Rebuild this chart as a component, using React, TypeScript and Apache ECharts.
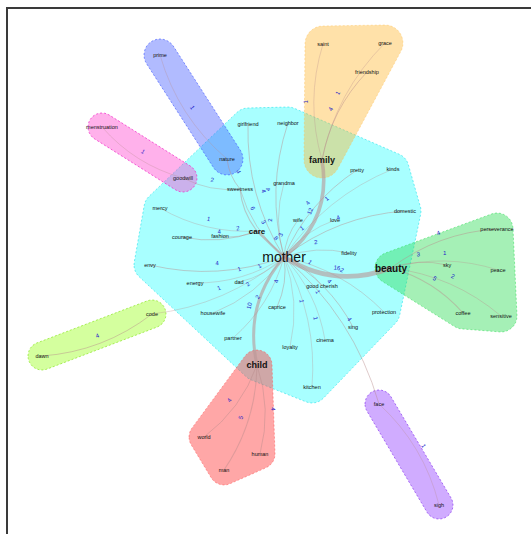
import React, { useEffect, useRef } from "react";
import * as echarts from "echarts";

const nodeNames = [
  "mother", "care", "family", "beauty", "child",
  "girlfriend", "neighbor", "sweetness", "grandma", "pretty", "kinds", "wife", "love",
  "domestic", "fidelity", "mercy", "courage", "fashion", "envy", "energy", "dad",
  "housewife", "caprice", "good cherish", "protection", "partner", "loyalty", "cinema",
  "sing", "kitchen",
  "nature", "prime", "goodwill", "menstruation",
  "saint", "grace", "friendship",
  "sky", "peace", "perseverance", "coffee", "sensitive",
  "code", "dawn",
  "world", "man", "human",
  "face", "sigh",
];
const nodeX = [
  284, 257, 322, 391, 257,
  248, 288, 240, 284, 357, 393, 298, 335,
  405, 349, 160, 182, 220, 150, 195, 239,
  213, 277, 322, 384, 233, 290, 325,
  353, 312,
  227, 160, 183, 102,
  323, 385, 367,
  447, 498, 497, 463, 501,
  152, 42,
  204, 224, 260,
  379, 439,
];
const nodeY = [
  257, 231, 160, 268, 365,
  124, 123, 189, 183, 170, 169, 220, 220,
  211, 253, 208, 237, 236, 265, 283, 282,
  313, 307, 286, 312, 338, 347, 340,
  327, 387,
  159, 55, 178, 127,
  44, 43, 72,
  265, 270, 229, 313, 316,
  314, 356,
  437, 470, 454,
  404, 505,
];

const edgeSource = [
  "mother", "mother", "mother", "mother", "care", "sweetness", "sweetness", "goodwill",
  "nature", "mother", "family", "family", "family", "mother", "mother", "mother",
  "mother", "mother", "mother", "mother", "mother", "mother", "care", "care", "care",
  "mother", "mother", "mother", "mother", "mother", "mother", "mother", "mother",
  "mother", "mother", "mother", "mother", "mother", "code", "mother", "face",
  "child", "child", "child", "beauty", "beauty", "beauty", "beauty", "beauty",
];
const edgeTarget = [
  "family", "beauty", "child", "care", "sweetness", "nature", "goodwill", "menstruation",
  "prime", "sweetness", "saint", "friendship", "grace", "girlfriend", "neighbor", "grandma",
  "wife", "love", "pretty", "kinds", "domestic", "fidelity", "mercy", "courage", "fashion",
  "envy", "energy", "dad", "housewife", "partner", "caprice", "loyalty", "good cherish",
  "protection", "sing", "cinema", "kitchen", "code", "dawn", "face", "sigh",
  "world", "man", "human", "sky", "peace", "coffee", "sensitive", "perseverance",
];
const edgeValue = [
  12, 16, 10, 8, 6, 4, 2, 1,
  1, 3, 1, 4, 1, 4, 4, 2,
  3, 1, 4, 1, 4, 2, 1, 4, 2,
  4, 1, 1, 2, 2, 4, 1, 1,
  2, 4, 1, 1, 1, 4, 4, 1,
  4, 5, 4, 3, 1, 5, 2, 4,
];

const hullCore = [
  "mother", "care", "family", "beauty", "child", "girlfriend", "neighbor", "sweetness",
  "grandma", "pretty", "kinds", "wife", "love", "domestic", "fidelity", "mercy", "courage",
  "fashion", "envy", "energy", "dad", "housewife", "caprice", "good cherish", "protection",
  "partner", "loyalty", "cinema", "sing", "kitchen",
];
const hullNature = ["nature", "prime"];
const hullBody = ["goodwill", "menstruation"];
const hullKin = ["family", "saint", "grace", "friendship"];
const hullBeauty = ["beauty", "sky", "peace", "perseverance", "coffee", "sensitive"];
const hullDawn = ["code", "dawn"];
const hullChild = ["child", "world", "man", "human"];
const hullFace = ["face", "sigh"];

const hulls = [hullCore, hullNature, hullBody, hullKin, hullBeauty, hullDawn, hullChild, hullFace];
const hullStyle = [
  { fill: "rgba(0,255,255,0.34)", stroke: "rgba(0,220,230,0.5)", r: 16 },
  { fill: "rgba(60,85,255,0.40)", stroke: "rgba(60,85,255,0.6)", r: 16 },
  { fill: "rgba(255,60,205,0.40)", stroke: "rgba(240,40,200,0.7)", r: 14 },
  { fill: "rgba(255,180,40,0.40)", stroke: "rgba(255,190,80,0.4)", r: 18 },
  { fill: "rgba(40,220,80,0.42)", stroke: "rgba(40,220,80,0.5)", r: 16 },
  { fill: "rgba(160,255,40,0.45)", stroke: "rgba(140,230,40,0.7)", r: 14 },
  { fill: "rgba(255,60,60,0.45)", stroke: "rgba(255,80,80,0.5)", r: 15 },
  { fill: "rgba(150,70,255,0.45)", stroke: "rgba(140,60,240,0.7)", r: 14 },
];

const bigFont: Record<string, number> = { mother: 14, beauty: 10, family: 9, child: 9, care: 8 };
const curveOf: Record<string, number> = {
  "mother-family": -0.3, "mother-beauty": -0.25, "mother-child": -0.25, "mother-care": 0,
};

function convexHull(pts: number[][]): number[][] {
  const p = pts.slice().sort((a, b) => a[0] - b[0] || a[1] - b[1]);
  const cross = (o: number[], a: number[], b: number[]) =>
    (a[0] - o[0]) * (b[1] - o[1]) - (a[1] - o[1]) * (b[0] - o[0]);
  const lower: number[][] = [];
  for (const q of p) {
    while (lower.length >= 2 && cross(lower[lower.length - 2], lower[lower.length - 1], q) <= 0) lower.pop();
    lower.push(q);
  }
  const upper: number[][] = [];
  for (let i = p.length - 1; i >= 0; i--) {
    const q = p[i];
    while (upper.length >= 2 && cross(upper[upper.length - 2], upper[upper.length - 1], q) <= 0) upper.pop();
    upper.push(q);
  }
  upper.pop();
  lower.pop();
  return lower.concat(upper);
}

export default function App() {
  const ref = useRef<HTMLDivElement>(null);
  useEffect(() => {
    const chart = echarts.init(ref.current!, null, { renderer: "svg" });
    const idx: Record<string, number> = {};
    nodeNames.forEach((n, i) => (idx[n] = i));

    const nodes = nodeNames.map((n, i) => ({
      name: n,
      value: [nodeX[i], nodeY[i]],
      label: {
        fontSize: bigFont[n] || 5.5,
        fontWeight: n === "family" || n === "beauty" || n === "child" || n === "care" ? "bold" : "normal",
      },
    }));
    const links = edgeSource.map((s, i) => {
      const w = edgeValue[i];
      const key = s + "-" + edgeTarget[i];
      return {
        source: s,
        target: edgeTarget[i],
        value: w,
        lineStyle: {
          width: w >= 8 ? w * 0.3 : 0.6 + w * 0.1,
          curveness: key in curveOf ? curveOf[key] : 0.15,
          color: w >= 8 ? "rgba(185,150,150,0.6)" : "rgba(185,140,140,0.45)",
          opacity: 1,
        },
      };
    });

    const option: any = {
      animation: false,
      backgroundColor: "#ffffff",
      grid: { left: 0, right: 0, top: 0, bottom: 0 },
      xAxis: { type: "value", min: 0, max: 531, show: false },
      yAxis: { type: "value", min: 0, max: 534, inverse: true, show: false },
      graphic: [
        {
          type: "rect",
          shape: { x: 7, y: 8, width: 600, height: 600 },
          style: { fill: "none", stroke: "#3a3a3a", lineWidth: 2 },
          z: 100,
        },
      ],
      series: [
        {
          type: "custom",
          coordinateSystem: "cartesian2d",
          clip: false,
          z: 1,
          silent: true,
          data: hulls.map((_, i) => [i, 0]),
          renderItem: (params: any, api: any) => {
            const gi = params.dataIndex;
            const st = hullStyle[gi];
            const pts: number[][] = [];
            hulls[gi].forEach((n) => {
              const k = idx[n];
              const c = api.coord([nodeX[k], nodeY[k]]);
              for (let a = 0; a < 32; a++) {
                const t = (a / 32) * Math.PI * 2;
                pts.push([c[0] + st.r * Math.cos(t), c[1] + st.r * Math.sin(t)]);
              }
            });
            return {
              type: "polygon",
              shape: { points: convexHull(pts) },
              style: { fill: st.fill, stroke: st.stroke, lineWidth: 1, lineDash: [2, 2] },
            };
          },
        },
        {
          type: "graph",
          coordinateSystem: "cartesian2d",
          z: 2,
          symbol: "circle",
          symbolSize: 2,
          itemStyle: { color: "rgba(0,0,0,0)" },
          lineStyle: { opacity: 1 },
          label: {
            show: true,
            position: "inside",
            color: "#111111",
            fontFamily: "Liberation Sans",
          },
          edgeLabel: {
            show: true,
            fontSize: 6,
            color: "#2323c8",
            fontFamily: "Liberation Sans",
            formatter: (p: any) => String(p.data.value),
          },
          data: nodes,
          links: links,
        },
      ],
    };
    chart.setOption(option);
    return () => chart.dispose();
  }, []);
  return (
    <div
      ref={ref}
      style={{ position: "absolute", left: 0, top: 0, width: 531, height: 534, background: "#fff" }}
    />
  );
}
